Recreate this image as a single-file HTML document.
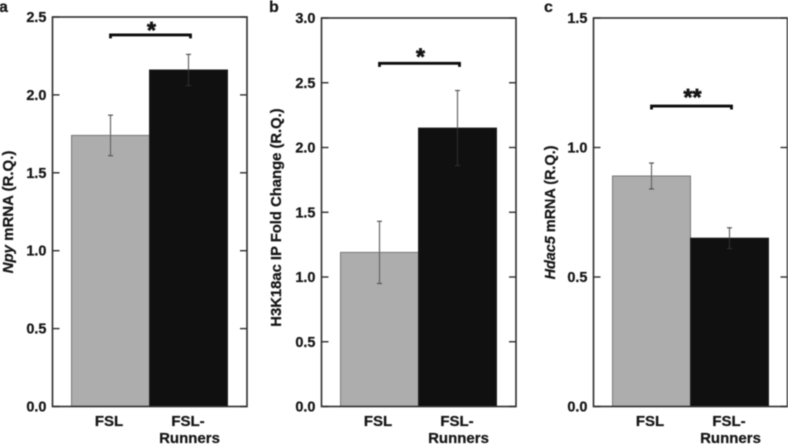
<!DOCTYPE html>
<html lang="en">
<head>
<meta charset="utf-8">
<title>Bar charts</title>
<style>
html,body{margin:0;padding:0;background:#fff;width:788px;height:444px;overflow:hidden}
svg{display:block;filter:blur(.45px)}
text{font-family:"Liberation Sans",sans-serif;font-weight:700;fill:#161616;stroke:#161616;stroke-width:.25px}
</style>
</head>
<body>
<svg id="chart" width="788" height="444" viewBox="0 0 788 444" xmlns="http://www.w3.org/2000/svg"></svg>
<script>
const categories = ['FSL', 'FSL-', 'Runners'];
const panelLetters = ['a', 'b', 'c'];
const yMaxima = [2.5, 3.0, 1.5];
const yTickLabelsA = ['0.0', '0.5', '1.0', '1.5', '2.0', '2.5'];
const yTickLabelsB = ['0.0', '0.5', '1.0', '1.5', '2.0', '2.5', '3.0'];
const yTickLabelsC = ['0.0', '0.5', '1.0', '1.5'];
const barValuesA = [1.74, 2.16];
const barValuesB = [1.19, 2.15];
const barValuesC = [0.89, 0.65];
const errorHighA = [1.87, 2.26];
const errorLowA = [1.61, 2.06];
const errorHighB = [1.43, 2.44];
const errorLowB = [0.95, 1.86];
const errorHighC = [0.94, 0.69];
const errorLowC = [0.84, 0.61];
const bracketValues = [2.385, 2.65, 1.16];
const significance = ['*', '*', '**'];

const NS = 'http://www.w3.org/2000/svg';
const svg = document.getElementById('chart');

function make(tag, attrs, parent, content) {
  const el = document.createElementNS(NS, tag);
  for (const k in attrs) el.setAttribute(k, attrs[k]);
  if (content !== undefined) el.textContent = content;
  parent.appendChild(el);
  return el;
}

function drawPanel(i, left, right, top, bottom, ticks, values, high, low, titleParts, titleX, titleMid, titleSize, starOffset) {
  const g = make('g', {}, svg);
  
  

  const y = v => bottom - (v / yMaxima[i]) * (bottom - top);
  const barWidth = 78;
  const barStart = left + 19;
  const x = b => barStart + b * barWidth;
  const cx = b => x(b) + barWidth / 2;

  const letter = make('text', {x: [-1, 269, 544][i], y: 12, 'font-size': 16}, g, panelLetters[i]);
  
  

  values.forEach((v, b) => {
    const bar = make('rect', {
      x: x(b), y: y(v), width: barWidth, height: bottom - y(v),
      fill: b === 0 ? '#adadad' : '#101010',
      stroke: b === 0 ? '#787878' : '#222', 'stroke-width': 1
    }, g);
    
    

    const upper = make('line', {
      x1: cx(b), x2: cx(b), y1: y(high[b]), y2: y(v),
      stroke: '#666', 'stroke-width': 1.2
    }, g);
    
    

    const lower = make('line', {
      x1: cx(b), x2: cx(b), y1: y(v), y2: y(low[b]),
      stroke: b === 0 ? '#666' : '#2c2c2c', 'stroke-width': 1.2
    }, g);
    
    

    const capTop = make('line', {
      x1: cx(b) - 2.5, x2: cx(b) + 2.5, y1: y(high[b]), y2: y(high[b]),
      stroke: '#555', 'stroke-width': 1.2
    }, g);
    
    

    const capLow = make('line', {
      x1: cx(b) - 2.5, x2: cx(b) + 2.5, y1: y(low[b]), y2: y(low[b]),
      stroke: b === 0 ? '#555' : '#2c2c2c', 'stroke-width': 1.2
    }, g);
    
    
  });

  const frame = make('rect', {
    x: left, y: top, width: right - left, height: bottom - top,
    fill: 'none', stroke: '#2e2e2e', 'stroke-width': 1.6
  }, g);
  
  

  ticks.forEach(label => {
    const v = parseFloat(label);
    const tl = make('line', {x1: left, x2: left + 7, y1: y(v), y2: y(v), stroke: '#2e2e2e', 'stroke-width': 1.4}, g);
    
    
    const tr = make('line', {x1: right - 7, x2: right, y1: y(v), y2: y(v), stroke: '#2e2e2e', 'stroke-width': 1.4}, g);
    
    
    const t = make('text', {x: left - 6, y: y(v) + 5, 'text-anchor': 'end', 'font-size': 14.5}, g, label);
    
    
  });

  const labelFsl = make('text', {x: cx(0) - 1.5, y: 426, 'text-anchor': 'middle', 'font-size': 15}, g, categories[0]);
  
  
  const labelRun1 = make('text', {x: cx(1) - 0.5, y: 426, 'text-anchor': 'middle', 'font-size': 15}, g, categories[1]);
  
  
  const labelRun2 = make('text', {x: cx(1) + 1, y: 443, 'text-anchor': 'middle', 'font-size': 15}, g, categories[2]);
  
  

  const by = y(bracketValues[i]);
  const bracket = make('path', {
    d: 'M' + cx(0) + ' ' + (by + 3.5) + 'V' + by + 'H' + (cx(1) + 2) + 'V' + (by + 3.5),
    fill: 'none', stroke: '#0d0d0d', 'stroke-width': 2.8
  }, g);
  
  
  const star = make('text', {
    x: (cx(0) + cx(1)) / 2 + 2, y: by + starOffset, 'text-anchor': 'middle', 'font-size': 23,
    style: 'stroke-width:.7px'
  }, g, significance[i]);
  
  

  const title = make('text', {
    transform: 'translate(' + titleX + ' ' + titleMid + ') rotate(-90)',
    'text-anchor': 'middle', 'font-size': titleSize
  }, g);
  
  
  titleParts.forEach(part => {
    make('tspan', part[1] ? {'font-style': 'italic'} : {}, title, part[0]);
  });
}

drawPanel(0, 52.5, 247, 17, 406.5, yTickLabelsA, barValuesA, errorHighA, errorLowA,
  [['Npy', true], [' mRNA (R.Q.)', false]], 13, 212, 15, 3);
drawPanel(1, 321.5, 516, 18, 406.5, yTickLabelsB, barValuesB, errorHighB, errorLowB,
  [['H3K18ac IP Fold Change (R.Q.)', false]], 281, 217.5, 14.8, 1);
drawPanel(2, 593.5, 787.5, 18, 406.5, yTickLabelsC, barValuesC, errorHighC, errorLowC,
  [['Hdac5', true], [' mRNA (R.Q.)', false]], 555, 212.5, 14.4, -1);
</script>
</body>
</html>
